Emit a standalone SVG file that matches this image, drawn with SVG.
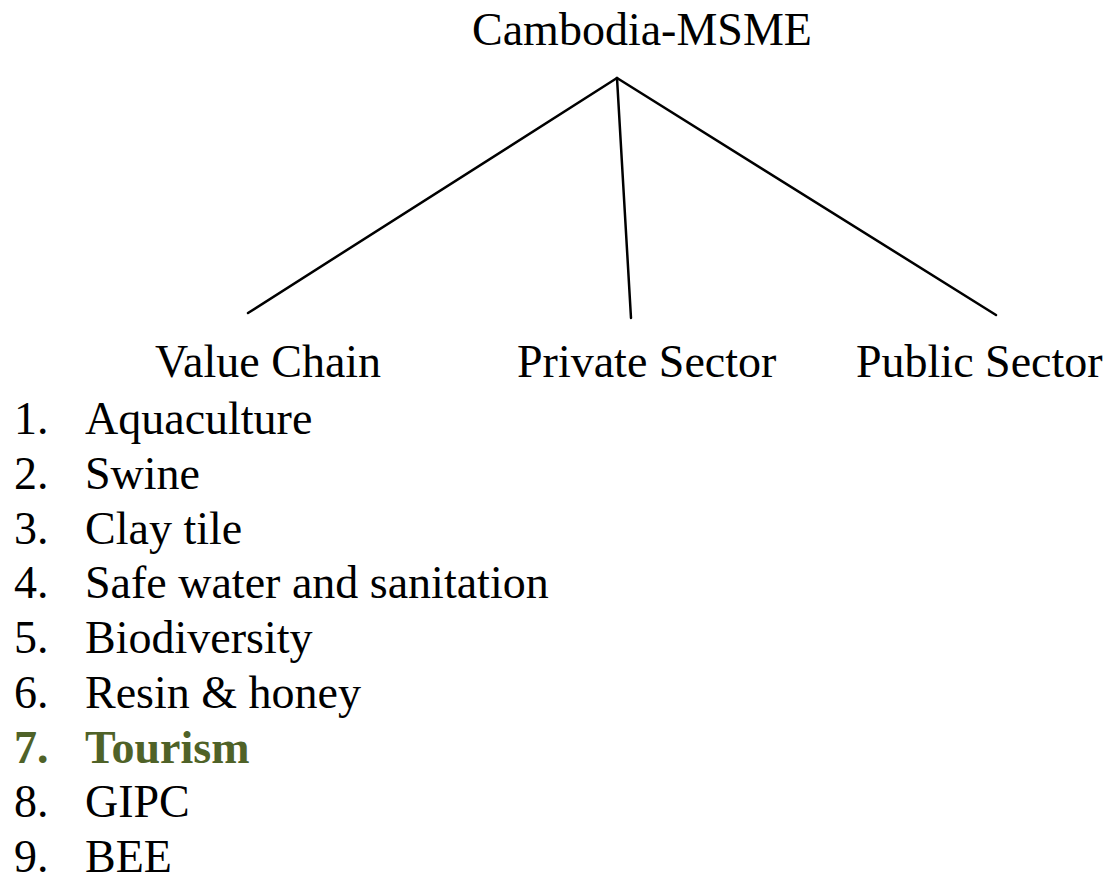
<svg xmlns="http://www.w3.org/2000/svg" width="1110" height="883" viewBox="0 0 1110 883">
<style>
text{font-family:"Liberation Serif","Times New Roman",serif;font-size:46px;fill:#000}
.c{stroke:#000;stroke-width:2.5;fill:none;stroke-linecap:round}
.hl{fill:#4f6228;font-weight:bold}
</style>
<rect width="1110" height="883" fill="#fff"/>
<g id="connectors">
<line class="c" x1="617" y1="78" x2="248" y2="313"/>
<line class="c" x1="617" y1="78" x2="631" y2="318"/>
<line class="c" x1="617" y1="78" x2="996" y2="315"/>
</g>
<g id="root"><text x="472" y="45">Cambodia-MSME</text></g>
<g id="value-chain"><text x="155" y="377">Value Chain</text></g>
<g id="private-sector"><text x="517" y="377">Private Sector</text></g>
<g id="public-sector"><text x="856" y="377">Public Sector</text></g>
<g id="list">
<text x="14" y="434">1.</text><text x="85" y="434">Aquaculture</text>
<text x="14" y="488.75">2.</text><text x="85" y="488.75">Swine</text>
<text x="14" y="543.5">3.</text><text x="85" y="543.5">Clay tile</text>
<text x="14" y="598.25">4.</text><text x="85" y="598.25">Safe water and sanitation</text>
<text x="14" y="653">5.</text><text x="85" y="653">Biodiversity</text>
<text x="14" y="707.75">6.</text><text x="85" y="707.75">Resin &amp; honey</text>
<text class="hl" x="14" y="762.5">7.</text><text class="hl" x="85" y="762.5">Tourism</text>
<text x="14" y="817.25">8.</text><text x="85" y="817.25">GIPC</text>
<text x="14" y="872">9.</text><text x="85" y="872">BEE</text>
</g>
</svg>
